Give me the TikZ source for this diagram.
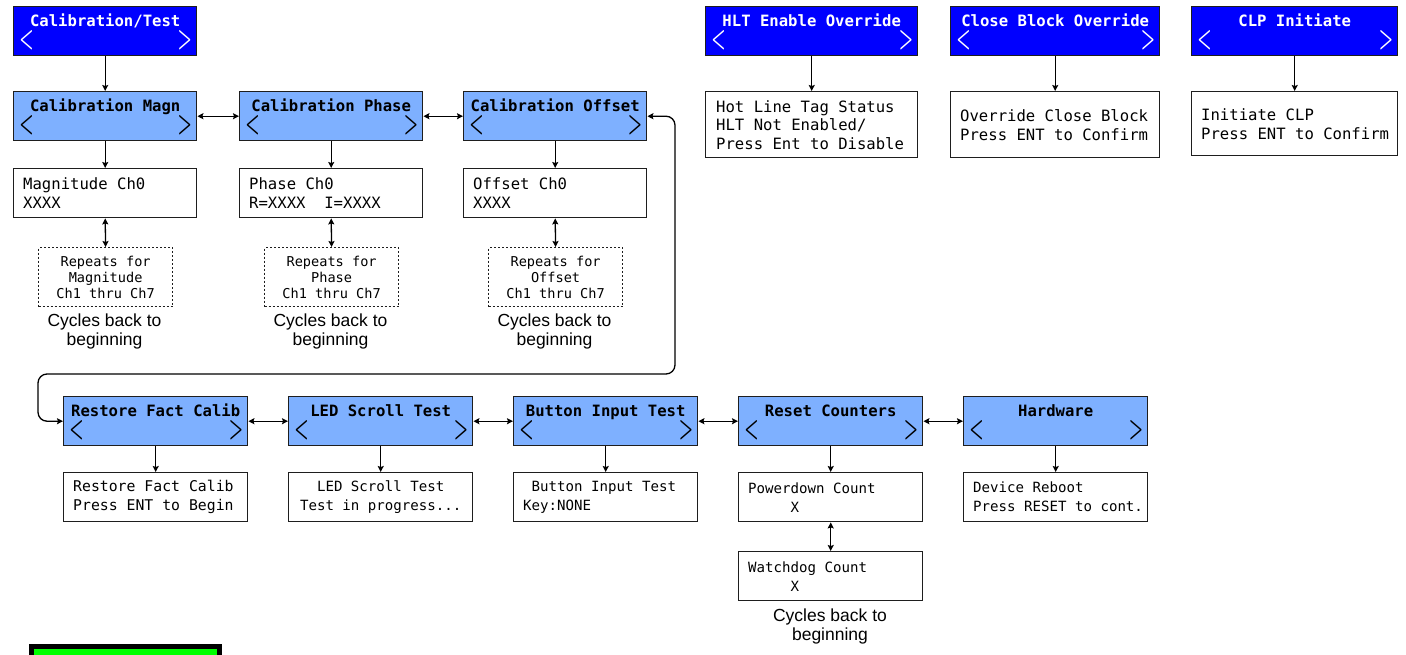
\documentclass[tikz,border=0pt]{standalone}
\usepackage{fontspec}
\usepackage{graphicx}
\setmonofont{DejaVu Sans Mono}
\setsansfont{Liberation Sans}
\usetikzlibrary{arrows.meta,calc}

\definecolor{hdrdark}{RGB}{0,0,255}
\definecolor{hdrlight}{RGB}{126,176,255}
\definecolor{boxline}{RGB}{30,30,30}
\definecolor{okgreen}{RGB}{0,255,0}

\tikzset{
  box/.style={draw=boxline, line width=1.4pt, inner sep=0pt, anchor=north west,
    minimum width=183pt, minimum height=49pt},
  darkhdr/.style={box, fill=hdrdark},
  lighthdr/.style={box, fill=hdrlight},
  panel/.style={box, fill=white},
  dotbox/.style={draw=boxline, line width=1.2pt, dash pattern=on 2pt off 2pt,
    inner sep=0pt, anchor=north west, minimum width=134pt, minimum height=59pt,
    align=center, font=\ttfamily\fontsize{13.6}{16}\selectfont},
  darktitle/.style={text=white, inner sep=0pt, font=\ttfamily\bfseries\fontsize{15.6}{18}\selectfont},
  lighttitle/.style={text=black, inner sep=0pt, font=\ttfamily\bfseries\fontsize{15.6}{18}\selectfont},
  darkchev/.style={text=white, inner sep=0pt, font=\bfseries\fontsize{20}{20}\selectfont},
  lightchev/.style={text=black, inner sep=0pt, font=\bfseries\fontsize{20}{20}\selectfont},
  bodytext/.style={inner sep=0pt, anchor=west, align=left, font=\ttfamily\fontsize{15.6}{19}\selectfont},
  smallbody/.style={inner sep=0pt, anchor=west, align=left, font=\ttfamily\fontsize{14.1}{19}\selectfont},
  cyc/.style={inner sep=0pt, align=center, font=\sffamily\fontsize{17.5}{19}\selectfont},
  tip/.tip={Stealth[length=6pt,width=6pt,inset=1pt]},
  link/.style={line width=1.3pt, draw=black, -tip},
  twoway/.style={line width=1.3pt, draw=black, tip-tip},
}

% menu header: [width] name style x y title
\newcommand\menubox[6][183]{%
  \node[#3hdr, minimum width=#1pt] (#2) at (#4,#5) {};
  \node[#3title, anchor=base] (#2-t) at ([yshift=-20.5pt]#2.north) {#6};
  \node[#3chev] (#2-l) at ([xshift=13.5pt,yshift=-34.5pt]#2.north west) {\scalebox{0.8}[1.45]{<}};
  \node[#3chev] (#2-r) at ([xshift=-12.5pt,yshift=-34.5pt]#2.north east) {\scalebox{0.8}[1.45]{>}};
}

\begin{document}
\begin{tikzpicture}[x=1pt,y=-1pt]
\useasboundingbox (0,0) rectangle (1406,655);

% ---------- calibration branch ----------
\menubox{calt}{dark}{13}{6}{Calibration/Test}
\menubox{cmag}{light}{13}{91}{Calibration Magn}
\menubox{cpha}{light}{239}{91}{Calibration Phase}
\menubox{coff}{light}{463}{91}{Calibration Offset}

\node[panel] (pmag) at (13,168) {};
\node[bodytext] (pmag-t) at ([xshift=10pt]pmag.west) {Magnitude Ch0\\XXXX};
\node[panel] (ppha) at (239,168) {};
\node[bodytext] (ppha-t) at ([xshift=10pt]ppha.west) {Phase Ch0\\R=XXXX\ \ I=XXXX};
\node[panel] (poff) at (463,168) {};
\node[bodytext] (poff-t) at ([xshift=10pt]poff.west) {Offset Ch0\\XXXX};

\node[dotbox] (rmag) at (38,247) {Repeats for\\Magnitude\\Ch1 thru Ch7};
\node[dotbox] (rpha) at (264,247) {Repeats for\\Phase\\Ch1 thru Ch7};
\node[dotbox] (roff) at (488,247) {Repeats for\\Offset\\Ch1 thru Ch7};

\node[cyc] (cyc1) at (104.5,331.5) {Cycles back to\\beginning};
\node[cyc] (cyc2) at (330.5,331.5) {Cycles back to\\beginning};
\node[cyc] (cyc3) at (554.5,331.5) {Cycles back to\\beginning};

\draw[link] (calt.south) -- (cmag.north);
\draw[twoway] (cmag.east) -- (cpha.west);
\draw[twoway] (cpha.east) -- (coff.west);
\draw[link] (cmag.south) -- (pmag.north);
\draw[link] (cpha.south) -- (ppha.north);
\draw[link] (coff.south) -- (poff.north);
\draw[twoway] (pmag.south) -- (rmag.north);
\draw[twoway] (ppha.south) -- (rpha.north);
\draw[twoway] (poff.south) -- (roff.north);

% ---------- override menus ----------
\menubox[212]{hlt}{dark}{705}{6}{HLT Enable Override}
\menubox[209]{cbo}{dark}{950}{6}{Close Block Override}
\menubox[206]{clp}{dark}{1191}{6}{CLP Initiate}

\node[panel, minimum width=212pt, minimum height=66pt] (phlt) at (705,91) {};
\node[bodytext, font=\ttfamily\fontsize{15.6}{18.5}\selectfont] (phlt-t) at ([xshift=11pt]phlt.west)
  {Hot Line Tag Status\\HLT Not Enabled/\\Press Ent to Disable};
\node[panel, minimum width=209pt, minimum height=66pt] (pcbo) at (950,91) {};
\node[bodytext] (pcbo-t) at ([xshift=10pt]pcbo.west) {Override Close Block\\Press ENT to Confirm};
\node[panel, minimum width=206pt, minimum height=64pt] (pclp) at (1191,91) {};
\node[bodytext] (pclp-t) at ([xshift=10pt]pclp.west) {Initiate CLP\\Press ENT to Confirm};

\draw[link] (hlt.south) -- (phlt.north);
\draw[link] (cbo.south) -- (pcbo.north);
\draw[link] (clp.south) -- (pclp.north);

% ---------- test menus ----------
\menubox[184]{rfc}{light}{63}{396}{Restore Fact Calib}
\menubox[184]{led}{light}{288}{396}{LED Scroll Test}
\menubox[184]{bit}{light}{513}{396}{Button Input Test}
\menubox[184]{rst}{light}{738}{396}{Reset Counters}
\menubox[184]{hw}{light}{963}{396}{Hardware}

\node[panel, minimum width=184pt] (prfc) at (63,472) {};
\node[smallbody, font=\ttfamily\fontsize{14.8}{19}\selectfont] (prfc-t) at ([xshift=10pt]prfc.west) {Restore Fact Calib\\Press ENT to Begin};
\node[panel, minimum width=184pt] (pled) at (288,472) {};
\node[smallbody, anchor=center, align=center] (pled-t) at (pled.center) {LED Scroll Test\\Test in progress...};
\node[panel, minimum width=184pt] (pbit) at (513,472) {};
\node[smallbody] (pbit-t) at ([xshift=10pt]pbit.west) {\hphantom{X}Button Input Test\\Key:NONE};
\node[panel, minimum width=184pt] (ppwr) at (738,472) {};
\node[smallbody] (ppwr-t) at ([xshift=10pt]ppwr.west) {Powerdown Count\\\hphantom{XXXXX}X};
\node[panel, minimum width=184pt] (phw) at (963,472) {};
\node[smallbody] (phw-t) at ([xshift=10pt]phw.west) {Device Reboot\\Press RESET to cont.};
\node[panel, minimum width=184pt] (pwdg) at (738,551) {};
\node[smallbody] (pwdg-t) at ([xshift=10pt]pwdg.west) {Watchdog Count\\\hphantom{XXXXX}X};

\node[cyc] (cyc4) at (830,626.5) {Cycles back to\\beginning};

\draw[twoway] (rfc.east) -- (led.west);
\draw[twoway] (led.east) -- (bit.west);
\draw[twoway] (bit.east) -- (rst.west);
\draw[twoway] (rst.east) -- (hw.west);
\draw[link] (rfc.south) -- (prfc.north);
\draw[link] (led.south) -- (pled.north);
\draw[link] (bit.south) -- (pbit.north);
\draw[link] (rst.south) -- (ppwr.north);
\draw[link] (hw.south) -- (phw.north);
\draw[twoway] (ppwr.south) -- (pwdg.north);

% loop joining the calibration row to the test row
\coordinate (loopA) at (675,374);
\coordinate (loopB) at (38,374);
\draw[twoway, rounded corners=9pt] (coff.east) -| (loopA) -- (loopB) |- (rfc.west);

% status bar at the bottom edge
\draw[line width=5pt, draw=black, fill=okgreen] (31.5,646.5) rectangle (219.5,672);
\end{tikzpicture}
\end{document}
